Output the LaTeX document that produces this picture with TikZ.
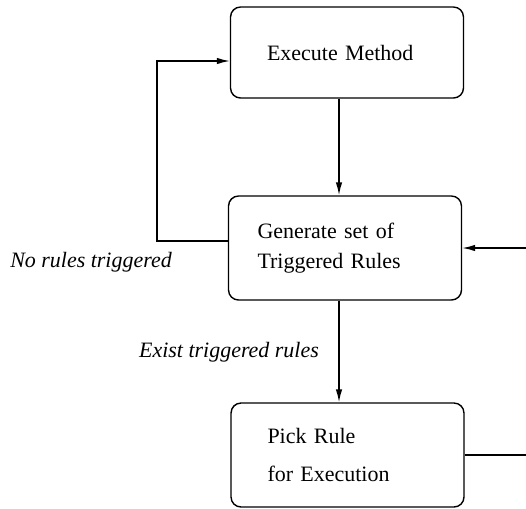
\documentclass[tikz,border=0pt]{standalone}
\usepackage{fontspec}
\setmainfont{Liberation Serif}
\usetikzlibrary{arrows.meta,positioning}

\begin{document}
\begin{tikzpicture}[x=0.02cm,y=-0.02cm,line width=0.8pt]
	% Fix the frame of the picture.
	\useasboundingbox (0,0) rectangle (526,508);
	\clip (0,0) rectangle (526,508);

	\tikzset{stage/.style={draw,rounded corners=0.2cm,minimum width=4.66cm,minimum height=2.08cm,inner sep=0pt,align=left,font=\fontsize{12.5}{16}\selectfont},
	         flow/.style={-{Latex[length=2.6mm,width=1.3mm]}},
	         cond/.style={font=\fontsize{12.5}{15}\selectfont\itshape}}

	% The three stages.
	\node (exec) at (347,52.5) [stage, minimum height=1.82cm, text width=3.2cm] {Execute Method};
	\node (gen)  at (345,248)  [stage, text width=3.5cm] {Generate set of\\[1pt] Triggered Rules};
	\node (pick) at (347.5,455) [stage, text width=3.2cm] {Pick Rule\\[6pt] for Execution};

	% Points where the lines turn.
	\coordinate (spine) at (339,0);
	\coordinate (loopTop) at (157,61);
	\coordinate (loopBot) at (157,241);
	\coordinate (ret) at (560,0);

	\draw [flow] (exec.south -| spine) -- (gen.north -| spine);
	\draw [flow] (gen.south -| spine) -- (pick.north -| spine);
	\draw [flow] (gen.west |- loopBot) -- (loopBot) -- (loopTop) -- (exec.west |- loopTop);
	\draw [flow] (pick.east) -- (pick.east -| ret) -- (gen.east -| ret) -- (gen.east);

	% Labels of the two branches.
	\node (none) at (91,262) [cond] {No rules triggered};
	\node (some) at (229,352) [cond] {Exist triggered rules};
\end{tikzpicture}
\end{document}
